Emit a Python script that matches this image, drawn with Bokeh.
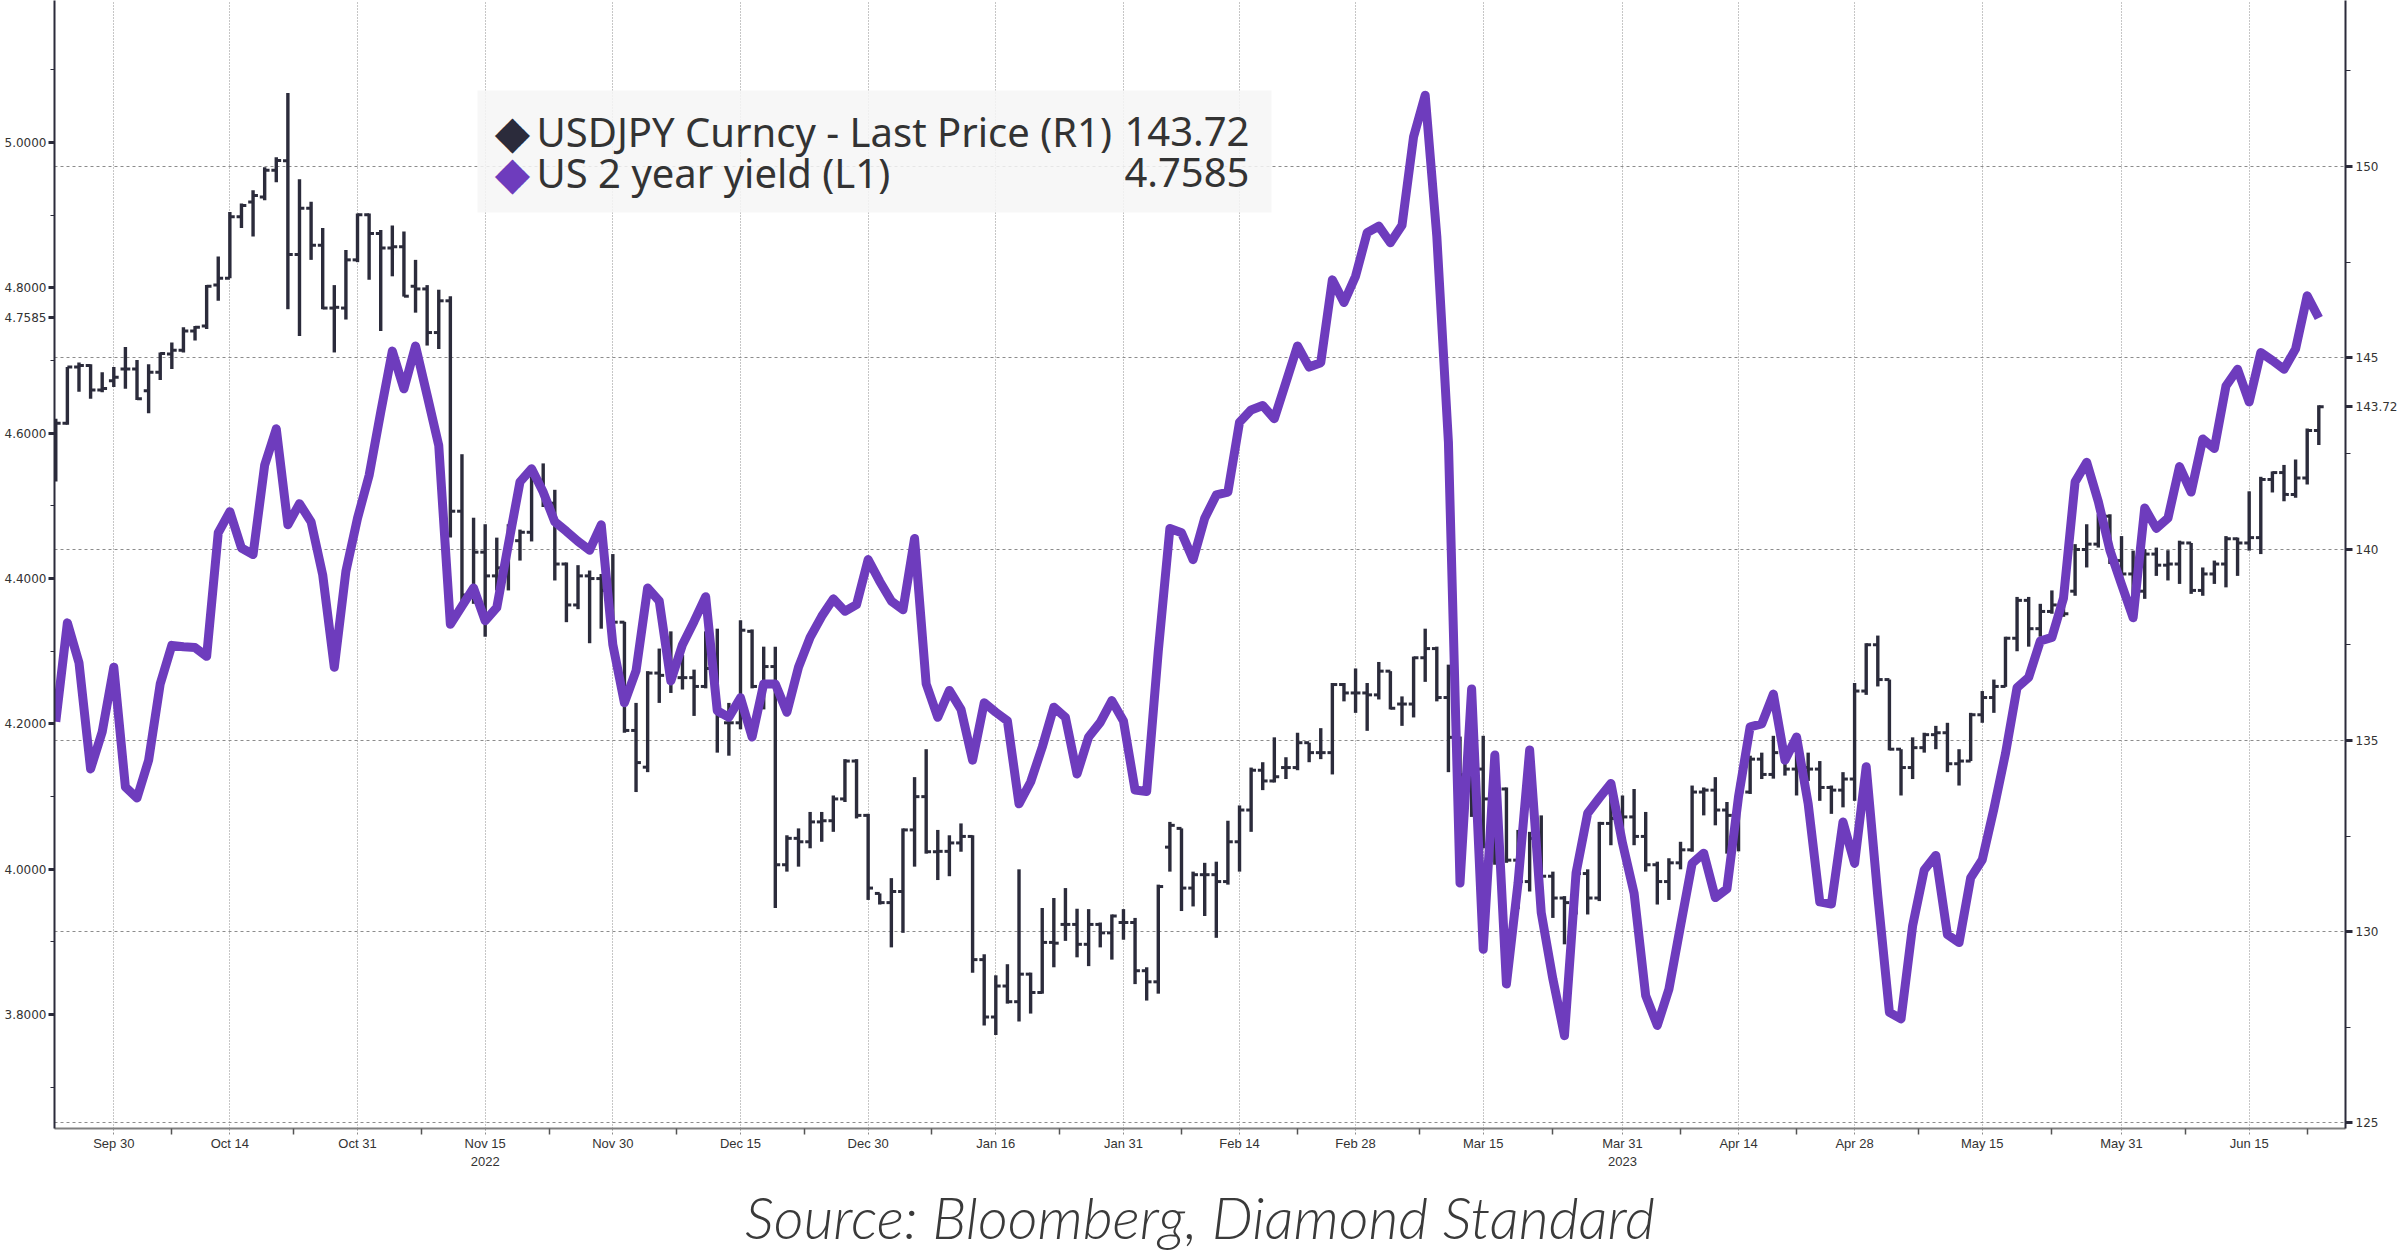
import pandas as pd
from bokeh.plotting import figure
from bokeh.models import (Range1d, LinearAxis, FixedTicker, Label, BoxAnnotation, Title,
                          ColumnDataSource, PrintfTickFormatter)
from bokeh.embed import file_html
from bokeh.resources import INLINE

# ---------------- data ----------------
dates = pd.bdate_range("2022-09-23", "2023-06-23")

usd_open = [
    143.00, 143.29, 144.76, 144.80, 144.16, 144.40, 144.71, 144.71, 144.14, 144.62,
    145.10, 145.20, 145.70, 145.83, 146.90, 147.08, 148.69, 149.07, 149.20, 149.90,
    150.15, 147.70, 148.91, 147.94, 146.30, 146.30, 147.56, 148.74, 148.25, 147.87,
    147.90, 146.87, 146.80, 145.66, 146.49, 140.99, 138.80, 139.92, 139.30, 139.51,
    140.22, 140.44, 141.80, 141.20, 139.61, 138.54, 139.30, 139.23, 138.92, 138.09,
    135.26, 134.30, 136.76, 136.70, 136.64, 136.64, 136.41, 136.88, 135.46, 135.46,
    137.85, 136.41, 136.93, 131.75, 132.44, 132.35, 132.87, 132.90, 133.47, 134.46,
    133.04, 131.00, 130.76, 131.05, 132.66, 133.53, 132.09, 132.10, 132.32, 132.49,
    129.27, 127.77, 128.58, 128.17, 128.89, 128.41, 129.72, 130.19, 130.19, 129.67,
    130.19, 129.97, 130.24, 130.24, 128.98, 128.69, 132.21, 132.70, 131.14, 131.49,
    131.49, 131.31, 132.35, 133.18, 134.22, 133.94, 134.29, 134.29, 134.94, 134.68,
    134.68, 136.46, 136.24, 136.24, 136.19, 136.81, 135.95, 135.95, 137.16, 137.40,
    136.12, 135.08, 134.10, 134.25, 133.47, 133.73, 131.87, 131.31, 132.44, 131.45,
    130.88, 130.76, 131.52, 130.88, 132.83, 132.96, 133.00, 132.49, 131.75, 131.31,
    131.80, 132.14, 133.65, 133.70, 133.18, 133.04, 133.65, 134.51, 134.11, 134.68,
    134.25, 134.29, 134.25, 133.77, 133.70, 133.99, 136.29, 137.50, 136.59, 134.77,
    134.29, 134.81, 135.15, 135.20, 134.39, 134.46, 135.67, 136.12, 136.41, 137.67,
    138.66, 137.92, 138.37, 138.54, 138.90, 139.99, 140.13, 140.86, 139.70, 139.35,
    138.90, 139.87, 139.58, 139.61, 140.16, 138.92, 139.35, 139.61, 140.27, 140.16,
    140.30, 141.82, 142.00, 141.43, 141.86, 143.10,
]
usd_high = [
    143.41, 144.76, 144.88, 144.83, 144.62, 144.76, 145.28, 144.94, 144.83, 145.14,
    145.40, 145.80, 145.83, 146.90, 147.65, 148.81, 149.03, 149.38, 149.98, 150.24,
    151.92, 149.67, 149.08, 148.39, 146.90, 147.82, 148.77, 148.77, 148.34, 148.46,
    148.30, 147.56, 146.90, 146.78, 146.61, 142.48, 140.82, 140.65, 140.30, 140.65,
    140.51, 142.03, 142.24, 141.55, 139.65, 139.58, 139.44, 139.35, 139.87, 138.10,
    135.98, 136.81, 137.40, 137.85, 137.23, 136.85, 137.85, 137.92, 135.98, 138.14,
    137.90, 137.45, 137.45, 132.52, 132.70, 133.13, 133.13, 133.56, 134.51, 134.51,
    133.08, 131.00, 131.40, 132.70, 134.04, 134.77, 132.66, 132.52, 132.83, 132.52,
    129.41, 128.86, 129.15, 131.63, 128.93, 130.62, 130.88, 131.14, 130.60, 130.59,
    130.24, 130.45, 130.59, 130.36, 129.07, 131.23, 132.87, 132.70, 131.57, 131.80,
    131.83, 132.90, 133.30, 134.29, 134.43, 135.08, 134.56, 135.20, 134.94, 135.32,
    136.50, 136.50, 136.88, 136.50, 137.05, 136.81, 136.15, 137.19, 137.92, 137.45,
    136.98, 135.10, 134.30, 135.12, 133.80, 133.77, 132.66, 132.61, 133.04, 131.57,
    130.93, 131.57, 131.63, 132.87, 133.56, 133.56, 133.73, 133.13, 131.83, 131.92,
    132.35, 133.82, 133.77, 134.04, 133.39, 133.90, 134.60, 134.68, 135.12, 134.77,
    134.94, 134.68, 134.46, 133.82, 134.17, 136.50, 137.54, 137.74, 136.59, 134.77,
    135.08, 135.20, 135.38, 135.46, 134.77, 135.72, 136.29, 136.59, 137.71, 138.75,
    138.75, 138.57, 138.92, 138.71, 140.13, 140.65, 140.91, 140.91, 140.34, 139.96,
    140.00, 140.04, 139.97, 140.22, 140.16, 139.52, 139.70, 140.34, 140.30, 141.51,
    141.89, 142.03, 142.20, 142.34, 143.15, 143.76,
]
usd_low = [
    141.77, 143.25, 144.11, 143.93, 144.10, 144.24, 144.19, 143.90, 143.55, 144.42,
    144.71, 145.14, 145.45, 145.75, 146.49, 147.08, 148.39, 148.17, 149.12, 149.59,
    146.27, 145.57, 147.56, 146.27, 145.14, 146.00, 147.50, 147.04, 145.70, 147.13,
    146.60, 146.18, 145.32, 145.23, 140.30, 138.47, 138.57, 137.71, 138.92, 138.92,
    139.70, 140.20, 141.10, 139.18, 138.09, 138.43, 137.54, 137.92, 137.71, 135.20,
    133.65, 134.17, 135.98, 136.24, 136.33, 135.64, 136.36, 134.68, 134.60, 135.29,
    136.36, 135.81, 130.62, 131.57, 131.70, 132.18, 132.35, 132.61, 133.39, 132.96,
    130.83, 130.71, 129.59, 129.97, 131.70, 132.04, 131.35, 131.45, 132.09, 128.93,
    127.55, 127.30, 128.12, 127.65, 127.86, 128.38, 129.07, 129.76, 129.33, 129.10,
    129.59, 129.27, 129.79, 128.63, 128.20, 128.38, 131.57, 130.54, 130.66, 130.41,
    129.84, 131.23, 131.57, 132.61, 133.70, 133.90, 133.99, 134.22, 134.43, 134.51,
    134.11, 136.02, 135.72, 135.25, 136.07, 135.81, 135.38, 135.60, 136.53, 136.02,
    134.17, 133.13, 133.00, 132.18, 131.75, 131.80, 130.59, 131.05, 131.40, 130.36,
    129.67, 130.45, 130.45, 130.80, 132.26, 132.61, 132.26, 131.57, 130.71, 130.83,
    131.63, 132.09, 133.04, 132.78, 132.04, 132.10, 133.60, 133.99, 134.00, 134.08,
    133.56, 133.94, 133.42, 133.08, 133.25, 133.42, 136.19, 136.41, 134.74, 133.56,
    133.99, 134.68, 134.77, 134.17, 133.82, 134.46, 135.46, 135.72, 136.40, 137.33,
    137.45, 137.71, 138.31, 138.23, 138.78, 139.52, 140.04, 139.61, 139.09, 138.71,
    138.70, 139.30, 139.18, 139.09, 138.83, 138.78, 139.09, 139.00, 139.30, 139.96,
    139.87, 141.48, 141.25, 141.34, 141.69, 142.72,
]
usd_close = [
    143.29, 144.76, 144.80, 144.16, 144.20, 144.49, 144.71, 143.93, 144.62, 145.11,
    145.20, 145.70, 145.80, 146.87, 147.08, 148.69, 148.98, 149.24, 149.90, 150.16,
    147.70, 148.91, 147.94, 146.30, 146.32, 147.56, 148.74, 148.25, 147.87, 147.90,
    146.61, 146.80, 145.66, 146.49, 140.99, 138.80, 139.92, 139.30, 139.51, 140.22,
    140.44, 141.80, 141.20, 139.61, 138.54, 139.30, 139.23, 138.92, 138.09, 135.26,
    134.42, 136.76, 136.70, 136.64, 136.64, 136.41, 136.88, 135.64, 135.46, 137.88,
    136.41, 136.93, 131.75, 132.44, 132.35, 132.87, 132.90, 133.47, 134.46, 133.04,
    131.14, 130.76, 131.05, 132.66, 133.53, 132.09, 132.10, 132.32, 132.49, 129.27,
    127.77, 128.58, 128.17, 128.89, 128.41, 129.72, 129.70, 130.19, 129.67, 130.19,
    129.97, 130.41, 130.24, 128.98, 128.69, 131.18, 132.78, 131.14, 131.49, 131.49,
    131.31, 132.35, 133.18, 134.22, 133.94, 134.05, 134.29, 134.94, 134.68, 134.68,
    136.46, 136.24, 136.24, 136.19, 136.81, 135.84, 135.95, 137.16, 137.40, 136.12,
    135.08, 134.10, 134.25, 133.47, 133.73, 131.87, 131.31, 132.44, 131.45, 130.88,
    130.76, 131.52, 130.88, 132.83, 132.96, 133.00, 132.49, 131.75, 131.31, 131.80,
    132.14, 133.65, 133.70, 133.18, 133.04, 133.65, 134.51, 134.11, 134.68, 134.25,
    134.29, 134.25, 133.77, 133.70, 133.99, 136.29, 137.50, 136.59, 134.77, 134.29,
    134.81, 135.15, 135.20, 134.39, 134.46, 135.67, 136.12, 136.41, 137.67, 138.66,
    137.92, 138.37, 138.54, 138.31, 139.99, 140.13, 140.86, 139.70, 139.35, 138.90,
    139.87, 139.58, 139.61, 140.16, 138.92, 139.35, 139.61, 140.27, 140.16, 140.30,
    141.82, 142.00, 141.43, 141.86, 143.10, 143.72,
]
us2y = [
    4.203, 4.339, 4.284, 4.138, 4.189, 4.278, 4.113, 4.098, 4.150, 4.255,
    4.308, 4.306, 4.305, 4.293, 4.463, 4.492, 4.442, 4.433, 4.556, 4.606,
    4.474, 4.503, 4.478, 4.405, 4.278, 4.410, 4.483, 4.542, 4.629, 4.713,
    4.661, 4.720, 4.652, 4.583, 4.337, 4.362, 4.387, 4.342, 4.360, 4.447,
    4.533, 4.551, 4.519, 4.478, 4.465, 4.451, 4.439, 4.474, 4.309, 4.229,
    4.273, 4.387, 4.369, 4.259, 4.309, 4.341, 4.375, 4.218, 4.209, 4.236,
    4.182, 4.255, 4.255, 4.216, 4.278, 4.319, 4.348, 4.372, 4.355, 4.364,
    4.426, 4.396, 4.369, 4.357, 4.455, 4.255, 4.209, 4.246, 4.220, 4.150,
    4.229, 4.216, 4.204, 4.090, 4.120, 4.168, 4.223, 4.209, 4.131, 4.182,
    4.202, 4.232, 4.204, 4.109, 4.107, 4.300, 4.469, 4.463, 4.426, 4.483,
    4.515, 4.519, 4.615, 4.632, 4.638, 4.620, 4.670, 4.720, 4.691, 4.697,
    4.811, 4.780, 4.816, 4.876, 4.885, 4.862, 4.886, 5.008, 5.065, 4.871,
    4.588, 3.981, 4.248, 3.890, 4.157, 3.842, 3.981, 4.164, 3.940, 3.849,
    3.771, 3.995, 4.077, 4.098, 4.118, 4.036, 3.967, 3.826, 3.785, 3.835,
    3.922, 4.008, 4.022, 3.961, 3.973, 4.100, 4.196, 4.200, 4.241, 4.150,
    4.182, 4.090, 3.955, 3.952, 4.065, 4.008, 4.141, 3.963, 3.803, 3.794,
    3.922, 3.999, 4.019, 3.910, 3.899, 3.988, 4.013, 4.083, 4.159, 4.250,
    4.264, 4.314, 4.319, 4.373, 4.533, 4.560, 4.506, 4.439, 4.392, 4.346,
    4.497, 4.469, 4.483, 4.554, 4.519, 4.592, 4.579, 4.665, 4.688, 4.643,
    4.711, 4.700, 4.688, 4.716, 4.789, 4.7585,
]

tick_dates = ["2022-09-30", "2022-10-14", "2022-10-31", "2022-11-15", "2022-11-30",
              "2022-12-15", "2022-12-30", "2023-01-16", "2023-01-31", "2023-02-14",
              "2023-02-28", "2023-03-15", "2023-03-31", "2023-04-14", "2023-04-28",
              "2023-05-15", "2023-05-31", "2023-06-15"]
tick_labels = ["Sep 30", "Oct 14", "Oct 31", "Nov 15\n2022", "Nov 30", "Dec 15", "Dec 30",
               "Jan 16", "Jan 31", "Feb 14", "Feb 28", "Mar 15", "Mar 31\n2023", "Apr 14",
               "Apr 28", "May 15", "May 31", "Jun 15"]
yield_ticks = [3.8, 4.0, 4.2, 4.4, 4.6, 4.8, 5.0]
yield_minor = [3.7, 3.9, 4.1, 4.3, 4.5, 4.7, 4.9, 5.1]
usd_ticks = [125, 130, 135, 140, 145, 150]
usd_minor = [127.5, 132.5, 137.5, 142.5, 147.5, 152.5]

legend_names = ["USDJPY Curncy - Last Price (R1)", "US 2 year yield (L1)"]
source_text = "Source: Bloomberg, Diamond Standard"
last_usd = usd_close[-1]
last_yld = us2y[-1]

# ---------------- styling ----------------
BAR = "#2b2b3b"
PURPLE = "#6e3cbd"
GRID = "#8c8c8c"
TXT = "#333333"

W, H = 2400, 1260
BL, BR, BT, BB = 54, 53, 0, 132
FW = W - BL - BR
FH = H - BT - BB

x = list(range(len(dates)))
tick_pos = [int(dates.get_loc(pd.Timestamp(d))) for d in tick_dates]
minor_pos = [(a + b) / 2 for a, b in zip(tick_pos[:-1], tick_pos[1:])] + [tick_pos[-1] + 5]

p = figure(width=W, height=H, output_backend="svg", toolbar_location=None,
           x_range=Range1d(-0.11, 197.3), y_range=Range1d(124.856, 154.339),
           y_axis_location="right",
           min_border_left=BL, min_border_right=BR, min_border_top=BT, min_border_bottom=BB,
           background_fill_color="white", border_fill_color="white", outline_line_color=None)
p.extra_y_ranges = {"yld": Range1d(3.6432, 5.1954)}

# right axis (USDJPY) - includes the last-price tag
ra = p.yaxis[0]
ra.ticker = FixedTicker(ticks=usd_ticks + [last_usd], minor_ticks=usd_minor)
ra.formatter = PrintfTickFormatter(format="%d")
ra.major_label_overrides = {last_usd: f"{last_usd:.2f}"}
ra.axis_line_color = BAR
ra.axis_line_width = 2
ra.major_tick_in = 0
ra.major_tick_out = 7
ra.major_tick_line_width = 3
ra.major_tick_line_color = BAR
ra.minor_tick_in = 0
ra.minor_tick_out = 5
ra.minor_tick_line_color = BAR
ra.major_label_text_font = "DejaVu Sans"
ra.major_label_text_font_size = "12px"
ra.major_label_text_color = TXT
ra.major_label_standoff = 3

# left axis (yield) - includes the last-value tag
la = LinearAxis(y_range_name="yld",
                ticker=FixedTicker(ticks=yield_ticks + [last_yld], minor_ticks=yield_minor),
                formatter=PrintfTickFormatter(format="%.4f"))
la.axis_line_color = BAR
la.axis_line_width = 2
la.major_tick_in = 0
la.major_tick_out = 6
la.major_tick_line_width = 3
la.major_tick_line_color = BAR
la.minor_tick_in = 0
la.minor_tick_out = 4
la.minor_tick_line_color = BAR
la.major_label_text_font = "DejaVu Sans"
la.major_label_text_font_size = "12px"
la.major_label_text_color = TXT
la.major_label_standoff = 2
p.add_layout(la, "left")

# bottom axis
xa = p.xaxis[0]
xa.ticker = FixedTicker(ticks=tick_pos, minor_ticks=minor_pos)
xa.major_label_overrides = {pos: lab for pos, lab in zip(tick_pos, tick_labels)}
xa.axis_line_color = "#808080"
xa.axis_line_width = 2
xa.major_tick_in = 0
xa.major_tick_out = 6
xa.major_tick_line_color = GRID
xa.major_tick_line_dash = "2 2"
xa.minor_tick_in = 0
xa.minor_tick_out = 6
xa.minor_tick_line_color = "#555555"
xa.minor_tick_line_width = 1.5
xa.major_label_text_font = "Liberation Sans"
xa.major_label_text_font_size = "13px"
xa.major_label_text_color = TXT
xa.major_label_standoff = 1

# source note below the axis
p.add_layout(Title(text=source_text, align="center", text_font="Lato Light",
                   text_font_style="italic", text_font_size="58px",
                   text_color="#3a3a3a", standoff=17), "below")

# grids
p.xgrid.ticker = FixedTicker(ticks=tick_pos)
p.xgrid.grid_line_color = GRID
p.xgrid.grid_line_dash = "1 2"
p.xgrid.grid_line_width = 1
p.ygrid.ticker = FixedTicker(ticks=usd_ticks)
p.ygrid.grid_line_color = GRID
p.ygrid.grid_line_dash = "3 3"
p.ygrid.grid_line_width = 1

# OHLC bars
src = ColumnDataSource(dict(x=x, o=usd_open, h=usd_high, l=usd_low, c=usd_close,
                            xl=[i - 0.42 for i in x], xr=[i + 0.42 for i in x]))
p.segment(x0="x", y0="l", x1="x", y1="h", source=src, line_color=BAR, line_width=3.4)
p.segment(x0="xl", y0="o", x1="x", y1="o", source=src, line_color=BAR, line_width=3)
p.segment(x0="x", y0="c", x1="xr", y1="c", source=src, line_color=BAR, line_width=3)

# yield line
p.line(x, us2y, y_range_name="yld", line_color=PURPLE, line_width=9, line_join="round")

# legend box
p.add_layout(BoxAnnotation(left=423, right=1217, top=1038, bottom=916,
                           left_units="screen", right_units="screen",
                           top_units="screen", bottom_units="screen",
                           fill_color="#f6f6f6", fill_alpha=0.85, line_color=None))
rows_y = [997, 956]
for name, val, col, yy in zip(legend_names, [f"{last_usd:.2f}", f"{last_yld:.4f}"],
                               [BAR, PURPLE], rows_y):
    p.add_layout(Label(x=458, y=yy, x_units="screen", y_units="screen", text="\u25c6",
                       text_color=col, text_font="DejaVu Sans", text_font_size="46px",
                       text_align="center", text_baseline="middle"))
    p.add_layout(Label(x=482, y=yy, x_units="screen", y_units="screen", text=name,
                       text_color=TXT, text_font="Noto Sans", text_font_size="40px",
                       text_align="left", text_baseline="middle"))
    p.add_layout(Label(x=1195, y=yy, x_units="screen", y_units="screen", text=val,
                       text_color=TXT, text_font="Noto Sans", text_font_size="40px",
                       text_align="right", text_baseline="middle"))

open("out.html", "w").write(file_html(p, INLINE))
